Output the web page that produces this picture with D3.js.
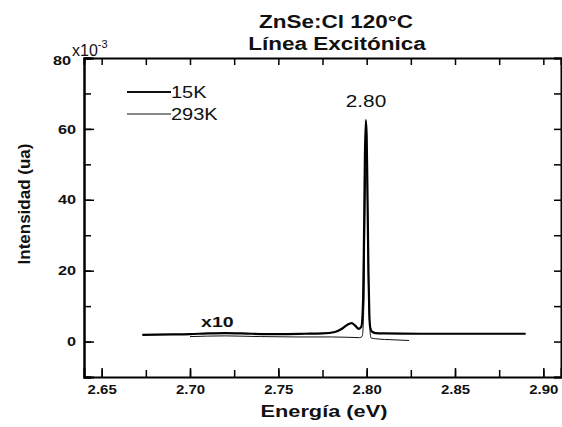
<!DOCTYPE html>
<html>
<head>
<meta charset="utf-8">
<script src="https://cdn.jsdelivr.net/npm/d3@7"></script>
<style>
  body { margin: 0; background: #fff; }
  text { font-family: Arial, "Liberation Sans", sans-serif; fill: #111; }
</style>
</head>
<body>
<div id="chart"></div>
<script>
// 15K spectrum (thick line)
let energy15 = [2.673, 2.69, 2.70, 2.71, 2.72, 2.735, 2.75, 2.765, 2.775, 2.782, 2.786, 2.789, 2.7915, 2.7935, 2.7955, 2.797, 2.798, 2.7985, 2.799, 2.7995, 2.800, 2.8005, 2.801, 2.8015, 2.802, 2.803, 2.805, 2.81, 2.83, 2.86, 2.89];
let inten15  = [1.9, 2.0, 2.1, 2.3, 2.4, 2.2, 2.1, 2.2, 2.3, 2.7, 3.6, 4.7, 5.2, 4.5, 3.6, 4.2, 12, 30, 52, 62.5, 58, 40, 20, 8, 4, 2.8, 2.4, 2.3, 2.2, 2.2, 2.2];

// 293K spectrum x10 (thin line)
let energy293 = [2.70, 2.72, 2.74, 2.76, 2.78, 2.79, 2.796, 2.7975, 2.7985, 2.799, 2.7998, 2.8005, 2.801, 2.8018, 2.8025, 2.805, 2.81, 2.815, 2.824];
let inten293  = [1.4, 1.6, 1.4, 1.3, 1.3, 1.2, 1.1, 1.5, 12, 35, 50, 38, 16, 4, 1.0, 0.8, 0.6, 0.5, 0.3];

let xTicks = [2.65, 2.70, 2.75, 2.80, 2.85, 2.90];
let yTicks = [0, 20, 40, 60, 80];
let legendNames = ["15K", "293K"];

let width = 562, height = 427;
let m = { left: 84, right: 561, top: 58, bottom: 377 };

let svg = d3.select("#chart").append("svg")
  .attr("width", width)
  .attr("height", height);

let x = d3.scaleLinear().domain([2.64, 2.91]).range([m.left, m.right]);
let y = d3.scaleLinear().domain([-10, 80]).range([m.bottom, m.top]);

let line = d3.line()
  .x(d => x(d[0]))
  .y(d => y(d[1]))
  .curve(d3.curveMonotoneX);

// the scanned figure is a bit wider than tall, so text gets stretched sideways
function stretch(sel, k) {
  sel.each(function() {
    let len = this.getComputedTextLength();
    d3.select(this).attr("textLength", len * k).attr("lengthAdjust", "spacingAndGlyphs");
  });
}

// curves
svg.append("path")
  .datum(d3.zip(energy293, inten293))
  .attr("d", line)
  .attr("fill", "none")
  .attr("stroke", "#111")
  .attr("stroke-width", 1);

svg.append("path")
  .datum(d3.zip(energy15, inten15))
  .attr("d", line)
  .attr("fill", "none")
  .attr("stroke", "#000")
  .attr("stroke-width", 2.2);

// axes: ticks drawn inward
let xMinor = d3.range(2.65, 2.91, 0.025);
let yMinor = d3.range(-10, 81, 10);

svg.append("g").attr("transform", `translate(0,${m.bottom})`)
  .call(d3.axisBottom(x).tickValues(xMinor).tickSize(-7).tickFormat(""))
  .call(g => g.select(".domain").remove());

let gx = svg.append("g").attr("transform", `translate(0,${m.bottom})`)
  .call(d3.axisBottom(x).tickValues(xTicks).tickSize(-9).tickPadding(8).tickFormat(d3.format(".2f")));
gx.selectAll("text").style("font-size", "13px").style("font-weight", "bold")
  .call(stretch, 1.15);

svg.append("g").attr("transform", `translate(0,${m.top})`)
  .call(d3.axisTop(x).tickValues(xMinor).tickSize(-7).tickFormat(""));

svg.append("g").attr("transform", `translate(${m.left},0)`)
  .call(d3.axisLeft(y).tickValues(yMinor).tickSize(-7).tickFormat(""));
let gy = svg.append("g").attr("transform", `translate(${m.left},0)`)
  .call(d3.axisLeft(y).tickValues(yTicks).tickSize(-10).tickPadding(8));
gy.selectAll("text").style("font-size", "13px").style("font-weight", "bold")
  .call(stretch, 1.25);
gy.selectAll(".tick").filter(d => d === 80).select("text").attr("x", -13).attr("dy", "0.5em");

svg.append("g").attr("transform", `translate(${m.right},0)`)
  .call(d3.axisRight(y).tickValues(yMinor).tickSize(-7).tickFormat(""));

svg.selectAll(".domain").attr("stroke-width", 2);
svg.selectAll(".tick line").attr("stroke-width", 1.5);

// x10^-3 multiplier
let mult = svg.append("text").attr("x", 72).attr("y", 56)
  .style("font-size", "16px");
mult.append("tspan").text("x10");
mult.append("tspan").text("-3").attr("dy", -8).style("font-size", "11px");

// title
svg.append("text").attr("x", 336).attr("y", 28).attr("text-anchor", "middle")
  .style("font-size", "18px").style("font-weight", "bold").text("ZnSe:Cl 120°C")
  .call(stretch, 1.25);
svg.append("text").attr("x", 337).attr("y", 50).attr("text-anchor", "middle")
  .style("font-size", "18px").style("font-weight", "bold").text("Línea Excitónica")
  .call(stretch, 1.25);

// axis labels
svg.append("text").attr("x", 324).attr("y", 417).attr("text-anchor", "middle")
  .style("font-size", "17px").style("font-weight", "bold").text("Energía (eV)")
  .call(stretch, 1.28);
svg.append("text")
  .attr("transform", "translate(30,204) rotate(-90)")
  .attr("text-anchor", "middle")
  .style("font-size", "17px").style("font-weight", "bold").text("Intensidad (ua)");

// annotations
svg.append("text").attr("x", 366).attr("y", 107).attr("text-anchor", "middle")
  .style("font-size", "16px").text("2.80")
  .call(stretch, 1.3);
svg.append("text").attr("x", x(2.7155)).attr("y", 327).attr("text-anchor", "middle")
  .style("font-size", "15px").style("font-weight", "bold").text("x10")
  .call(stretch, 1.3);

// legend
let legend = svg.selectAll(".legend")
  .data(legendNames)
  .enter().append("g")
  .attr("transform", (d, i) => `translate(127,${92 + i * 22})`);
legend.append("line")
  .attr("x1", 0).attr("x2", 44)
  .attr("stroke", "#111")
  .attr("stroke-width", (d, i) => i === 0 ? 2 : 1);
legend.append("text").attr("x", 44).attr("dy", "0.36em")
  .style("font-size", "16px").text(d => d)
  .call(stretch, 1.25);
</script>
</body>
</html>
